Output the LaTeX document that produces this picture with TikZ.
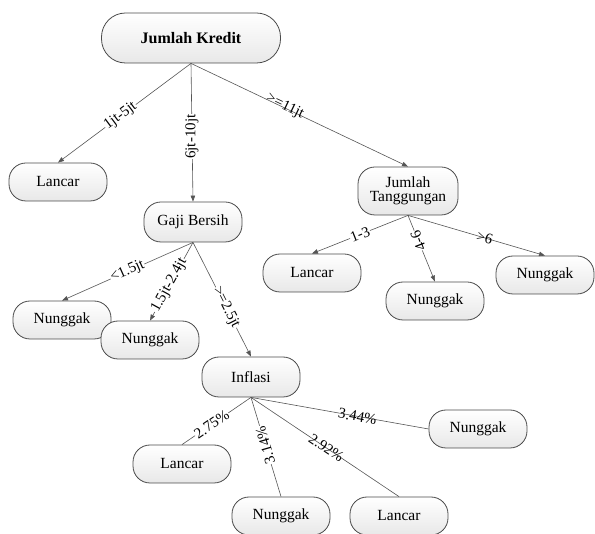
\documentclass[tikz,border=0pt]{standalone}
\usepackage{fontspec}
\setmainfont{Liberation Serif}
\usetikzlibrary{arrows.meta,positioning,calc}
\definecolor{cline}{HTML}{4A4A4A}
\definecolor{cedge}{HTML}{555555}

\begin{document}
\begin{tikzpicture}[
  x=1pt, y=-1pt,
  font=\fontsize{15.5}{17}\selectfont,
  leaf/.style={draw=cline, line width=0.8pt, rounded corners=17pt, top color=white, bottom color=gray!18,
               minimum width=98pt, minimum height=38pt, inner sep=2pt, align=center},
  test/.style={leaf, minimum height=40pt},
  root/.style={leaf, rounded corners=24pt, minimum width=179pt, minimum height=50pt, font=\fontsize{16}{18}\selectfont\bfseries},
  link/.style={-{Triangle[length=6pt, width=4.5pt]}, line width=0.6pt, draw=cedge},
  plain/.style={line width=0.6pt, draw=cedge},
  p/.style={sloped, fill=white, inner sep=0.6pt, font=\fontsize{15}{16}\selectfont},
  pr/.style={rotate=#1, fill=white, inner sep=0.6pt, font=\fontsize{15}{16}\selectfont},
  pu/.style={sloped, above=-6pt, inner sep=0.6pt, font=\fontsize{15}{16}\selectfont},
]
\useasboundingbox (0,0) rectangle (595,534);

% ------------------------------------------------------------ root
\node[root] (kredit) at (191,38) {Jumlah Kredit};

% ------------------------------------------------------------ level 1
\node[leaf] (lancarA) at (58,182) {Lancar};
\node[test] (gaji) at (193,222) {Gaji Bersih};
\node[test, minimum width=100pt, minimum height=48pt, inner sep=1pt] (tanggung) at (408,191) {Jumlah\\[-3pt]Tanggungan};

\draw[link] (kredit.south) -- node[p, pos=0.53]{1jt-5jt} (lancarA.north);
\draw[link] (kredit.south) -- node[pr=90, pos=0.53]{6jt-10jt} (gaji.north);
\draw[link] (kredit.south) -- node[pu, pos=0.43]{>=11jt} (tanggung.north);

% ------------------------------------------------------------ tanggungan
\node[leaf] (lancarB) at (312,273) {Lancar};
\node[leaf] (nunggakB) at (435,301) {Nunggak};
\node[leaf] (nunggakC) at (545,275) {Nunggak};

\draw[link] (tanggung.south) -- node[p, pos=0.5]{1-3} (lancarB.north);
\draw[link] (tanggung.south) -- node[pr=111, pos=0.38]{4-6} (nunggakB.north);
\draw[link] (tanggung.south) -- node[pu, pos=0.56]{>6} (nunggakC.north);

% ------------------------------------------------------------ gaji bersih
\node[leaf] (nunggakD) at (62,320) {Nunggak};
\node[leaf] (nunggakE) at (150,340) {Nunggak};
\node[test] (inflasi) at (251,377) {Inflasi};

\draw[link] (gaji.south) -- node[p, pos=0.5]{<1.5jt} (nunggakD.north);
\draw[link] (gaji.south) -- node[p, pos=0.55]{1.5jt-2.4jt} (nunggakE.north);
\draw[link] (gaji.south) -- node[p, pos=0.57]{>=2.5jt} (inflasi.north);

% ------------------------------------------------------------ inflasi
\node[leaf] (lancarC) at (182,464) {Lancar};
\node[leaf] (nunggakF) at (281,516) {Nunggak};
\node[leaf] (lancarD) at (399,516) {Lancar};
\node[leaf] (nunggakG) at (478,429) {Nunggak};

\draw[plain] (inflasi.south) -- node[p, pos=0.57]{2.75\%} (lancarC.north);
\draw[plain] (inflasi.south) -- node[pr=106, pos=0.48]{3.14\%} (nunggakF.north);
\draw[plain] (inflasi.south) -- node[pu, pos=0.51]{2.92\%} (lancarD.north);
\draw[plain] (inflasi.south) -- node[pu, pos=0.6]{3.44\%} (nunggakG.west);

\end{tikzpicture}
\end{document}
